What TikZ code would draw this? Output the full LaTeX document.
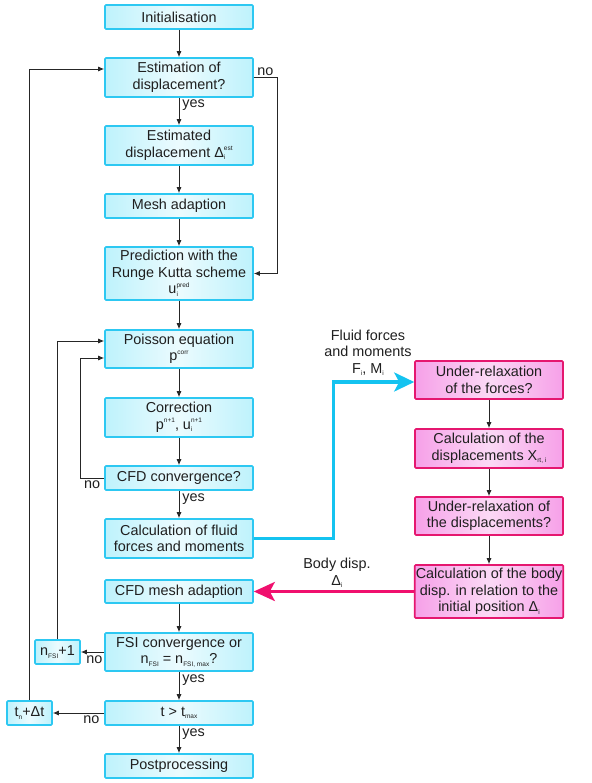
\documentclass[tikz,border=0pt]{standalone}
\usepackage{fontspec}
\setmainfont{Liberation Sans}
\usetikzlibrary{arrows.meta}

\definecolor{cyanline}{RGB}{45,200,242}
\definecolor{cyanfill}{RGB}{190,242,252}
\definecolor{pinkline}{RGB}{229,23,111}
\definecolor{pinkfill}{RGB}{246,160,232}
\definecolor{cyanflow}{RGB}{20,195,240}
\definecolor{pinkflow}{RGB}{240,16,110}

\newcommand{\subx}[1]{\raisebox{-2.5pt}{\fontsize{6.5}{6.5}\selectfont #1}}
\newcommand{\supx}[1]{\raisebox{6.5pt}{\fontsize{6.5}{6.5}\selectfont #1}}
\newcommand{\subsupx}[2]{\rlap{\subx{#1}}\supx{#2}}

\begin{document}
\begin{tikzpicture}[x=1pt, y=-1pt,
  every node/.style={font=\fontsize{14.4}{16.5}\selectfont, text=black!88, align=center},
  box/.style={draw=cyanline, line width=1.6pt, rounded corners=1pt, left color=cyanfill, right color=cyanfill, middle color=cyanfill!30, minimum width=148pt, minimum height=24pt, inner xsep=1pt, inner ysep=2pt},
  pbox/.style={box, draw=pinkline, left color=pinkfill, right color=pinkfill, middle color=pinkfill!40},
  lbl/.style={inner sep=1pt},
  arr/.style={draw=black!85, line width=0.9pt, -{Latex[length=6pt,width=5pt]}},
  cyanarr/.style={draw=cyanflow, line width=3.2pt, -{Stealth[length=20pt,width=19pt,inset=5pt]}},
  pinkarr/.style={draw=pinkflow, line width=3.2pt, -{Stealth[length=21pt,width=19pt,inset=5pt]}}]
\useasboundingbox (0,0) rectangle (591,783);
% main column
\node[box] (M1) at (179,17) {Initialisation};
\node[box, minimum height=39pt] (M2) at (179,77.5) {Estimation of\\displacement?};
\node[box, minimum height=39pt] (M3) at (179,145.5) {Estimated\\displacement Δ\subsupx{i}{est}};
\node[box] (M4) at (179,206) {Mesh adaption};
\node[box, minimum height=53pt] (M5) at (179,273.5) {Prediction with the\\Runge Kutta scheme\\u\subsupx{i}{pred}};
\node[box, minimum height=38pt] (M6) at (179,349) {Poisson equation\\p\supx{corr}};
\node[box, minimum height=39pt] (M7) at (179,417.5) {Correction\\p\supx{n+1}, u\subsupx{i}{n+1}};
\node[box] (M8) at (179,478) {CFD convergence?};
\node[box, minimum height=39pt] (M9) at (179,538.5) {Calculation of fluid\\forces and moments};
\node[box, minimum height=23pt] (M10) at (179,591.5) {CFD mesh adaption};
\node[box, minimum height=38pt] (M11) at (179,652) {FSI convergence or\\n\subx{FSI} = n\subx{FSI, max}?};
\node[box] (M12) at (179,713) {t > t\subx{max}};
\node[box] (M13) at (179,766) {Postprocessing};
% counters
\node[box, minimum width=45pt] (L1) at (57.5,652) {n\subx{FSI}+1};
\node[box, minimum width=45pt] (L2) at (29.5,713) {t\subx{n}+Δt};
% structure solver
\node[pbox, minimum height=38pt] (R1) at (489,380) {Under-relaxation\\of the forces?};
\node[pbox, minimum height=39pt] (R2) at (489,448.5) {Calculation of the\\displacements X\subx{rt, i}};
\node[pbox, minimum height=38pt] (R3) at (489,516) {Under-relaxation of\\the displacements?};
\node[pbox, minimum height=53pt] (R4) at (489,591.5) {Calculation of the body\\disp. in relation to the\\initial position Δ\subx{i}};
\node[lbl] (FM) at (368,353) {Fluid forces\\and moments\\F\subx{i}, M\subx{i}};
\node[lbl] (BD) at (337,573) {Body disp.\\Δ\subx{i}};

\draw[arr] (M1) -- (M2);
\draw[arr] (M2) -- node[lbl, pos=0, anchor=north west, xshift=2pt, yshift=-1pt] {yes} (M3);
\draw[arr] (M3) -- (M4);
\draw[arr] (M4) -- (M5);
\draw[arr] (M5) -- (M6);
\draw[arr] (M6) -- (M7);
\draw[arr] (M7) -- (M8);
\draw[arr] (M8) -- node[lbl, pos=0, anchor=north west, xshift=2pt, yshift=-1pt] {yes} (M9);
\draw[arr] (M10) -- (M11);
\draw[arr] (M11) -- node[lbl, pos=0, anchor=north west, xshift=2pt, yshift=-1pt] {yes} (M12);
\draw[arr] (M12) -- node[lbl, pos=0, anchor=north west, xshift=2pt, yshift=-1pt] {yes} (M13);
\draw[arr] (M2.east) -- node[lbl, pos=0, anchor=south west, xshift=2pt] {no} ++(24,0) |- (M5.east);
\draw[arr] (M8.west) -- node[lbl, below, yshift=-1pt] {no} ++(-24,0) |- ([yshift=-9pt]M6.west);
\draw[arr] (M11.west) -- node[lbl, below, xshift=2pt, yshift=-2pt] {no} (L1.east);
\draw[arr] (L1.north) |- ([yshift=8pt]M6.west);
\draw[arr] (M12.west) -- node[lbl, pos=0.25, below, yshift=-1pt] {no} (L2.east);
\draw[arr] (L2.north) |- ([yshift=8.5pt]M2.west);
\draw[arr] (R1) -- (R2);
\draw[arr] (R2) -- (R3);
\draw[arr] (R3) -- (R4);
\draw[cyanarr] (M9.east) -- ++(80,0) |- ([yshift=-2pt]R1.west);
\draw[pinkarr] (R4.west) -- (M10.east);
\end{tikzpicture}
\end{document}
